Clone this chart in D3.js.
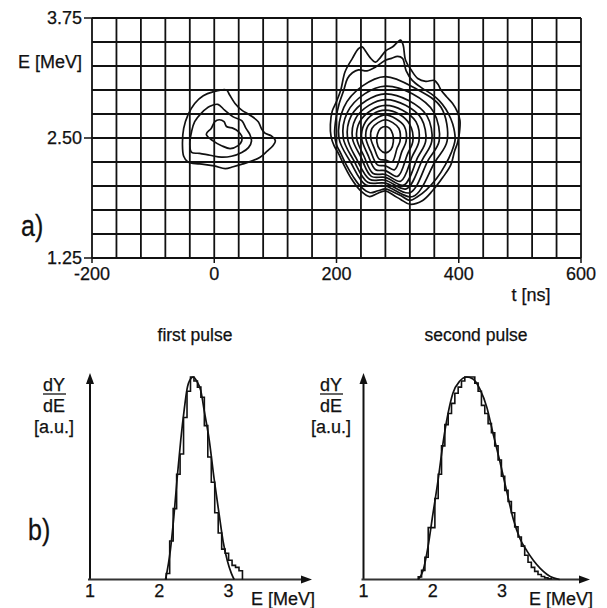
<!DOCTYPE html>
<html>
<head>
<meta charset="utf-8">
<script src="https://cdn.jsdelivr.net/npm/d3@7"></script>
<style>
  body { margin: 0; background: #fff; }
  text { font-family: "Liberation Sans", Arial, Helvetica, sans-serif; fill: #111; stroke: #111; stroke-width: 0.25px; }
</style>
</head>
<body>
<div id="chart"></div>
<script>
// ---------- data: panel a) ----------
const tTickLabels = [-200, 0, 200, 400, 600];
const eTickLabels = [1.25, 2.50, 3.75];
const tGridStep = 40;    // ns
const eGridStep = 0.25;  // MeV

// contour lines of the first pulse, [t (ns), E (MeV)]
const firstPulseContours = [
  [[-18,2.94],[-2,2.98],[20,3.00],[25,2.95],[34,2.86],[45,2.79],[58,2.74],[72,2.67],[77,2.60],[83,2.55],[94,2.52],[100,2.47],[96,2.42],[86,2.36],[75,2.30],[61,2.26],[47,2.23],[31,2.20],[18,2.18],[0,2.21],[-24,2.23],[-43,2.25],[-50,2.31],[-52,2.43],[-50,2.60],[-43,2.74],[-32,2.86]],
  [[-7,2.83],[6,2.85],[17,2.79],[31,2.72],[45,2.68],[52,2.60],[58,2.54],[61,2.47],[56,2.40],[45,2.35],[28,2.31],[12,2.30],[-7,2.32],[-24,2.34],[-37,2.35],[-40,2.43],[-37,2.57],[-32,2.67],[-21,2.76]],
  [[-13,2.54],[-5,2.60],[1,2.67],[8,2.69],[16,2.67],[20,2.62],[31,2.60],[39,2.57],[45,2.52],[45,2.47],[39,2.42],[26,2.39],[12,2.42],[-2,2.47]]
];

// contour lines of the second pulse, [t (ns), E (MeV)]
const secondPulseContours = [
  [[242,3.45],[248,3.40],[256,3.33],[264,3.29],[272,3.34],[281,3.41],[292,3.45],[300,3.50],[305,3.52],[309,3.47],[313,3.31],[322,3.21],[333,3.12],[346,3.09],[360,3.10],[366,3.06],[371,3.00],[380,2.93],[390,2.86],[398,2.77],[402,2.68],[401,2.55],[398,2.45],[393,2.36],[387,2.22],[374,2.09],[357,1.95],[341,1.85],[320,1.81],[305,1.86],[294,1.90],[280,1.95],[266,1.92],[254,1.89],[238,1.96],[223,2.09],[212,2.22],[204,2.33],[196,2.42],[191,2.52],[190,2.64],[193,2.78],[200,2.88],[207,3.00],[214,3.19],[226,3.33],[236,3.43]],
  [[280,3.31],[290,3.33],[300,3.35],[308,3.33],[314,3.20],[324,3.10],[340,3.02],[355,2.96],[368,2.89],[379,2.80],[387,2.70],[392,2.60],[394,2.48],[388,2.35],[378,2.22],[364,2.08],[347,1.96],[333,1.89],[320,1.85],[305,1.90],[292,1.94],[280,1.97],[268,1.95],[255,1.93],[240,1.99],[227,2.10],[216,2.22],[207,2.34],[200,2.43],[197,2.55],[199,2.70],[204,2.85],[212,3.00],[218,3.12],[226,3.18],[236,3.21],[250,3.20],[264,3.24],[273,3.28]],
  [[280,3.14],[328,3.02],[371,2.82],[381,2.47],[361,2.25],[325,1.89],[280,2.00],[248,2.01],[223,2.25],[204,2.50],[212,2.82],[242,3.04]],
  [[280,3.04],[324,2.96],[359,2.77],[368,2.47],[350,2.27],[320,1.93],[280,2.03],[251,2.04],[228,2.27],[211,2.50],[218,2.77],[246,2.96]],
  [[280,2.96],[318,2.89],[348,2.73],[356,2.47],[341,2.28],[314,1.97],[280,2.06],[254,2.07],[233,2.28],[218,2.50],[224,2.73],[249,2.89]],
  [[280,2.90],[313,2.84],[339,2.70],[346,2.47],[333,2.30],[310,2.01],[280,2.09],[257,2.10],[240,2.30],[226,2.50],[231,2.70],[253,2.84]],
  [[280,2.84],[308,2.79],[330,2.67],[335,2.47],[324,2.31],[305,2.05],[280,2.12],[260,2.13],[245,2.31],[233,2.50],[238,2.67],[257,2.79]],
  [[280,2.79],[302,2.75],[320,2.64],[325,2.47],[316,2.33],[300,2.10],[280,2.16],[264,2.17],[251,2.33],[241,2.50],[245,2.64],[260,2.75]],
  [[280,2.74],[297,2.70],[311,2.62],[314,2.47],[307,2.36],[295,2.17],[280,2.21],[267,2.22],[256,2.36],[248,2.50],[251,2.62],[264,2.70]],
  [[280,2.69],[292,2.66],[302,2.60],[304,2.47],[299,2.39],[291,2.25],[280,2.27],[270,2.28],[262,2.39],[256,2.50],[258,2.60],[268,2.66]],
  [[280,2.62],[287,2.60],[292,2.54],[293,2.46],[289,2.38],[280,2.345],[271,2.38],[266,2.46],[267,2.54],[272,2.60]]
];

// ---------- data: panel b) ----------
const bTickLabels = [1, 2, 3];

const firstHistStart = 2.10, firstHistWidth = 0.05;
const firstHist = [0.03,0.19,0.35,0.52,0.62,0.80,0.93,1.00,0.98,0.95,0.90,0.76,0.605,0.48,0.33,0.23,0.15,0.13,0.095,0.07,0.06,0.043];
const firstFit = [[2.09,0],[2.16,0.145],[2.21,0.31],[2.26,0.51],[2.31,0.69],[2.36,0.84],[2.40,0.94],[2.45,0.99],[2.49,1.0],[2.54,0.98],[2.60,0.93],[2.65,0.83],[2.72,0.69],[2.79,0.50],[2.86,0.33],[2.92,0.19],[2.98,0.095],[3.04,0.03],[3.08,0]];

const secondHistStart = 1.79, secondHistWidth = 0.048;
const secondHist = [0.013,0.045,0.11,0.256,0.256,0.40,0.52,0.66,0.765,0.82,0.87,0.92,0.95,0.98,1.0,1.0,1.0,0.97,0.93,0.86,0.82,0.77,0.725,0.66,0.59,0.51,0.44,0.385,0.33,0.26,0.21,0.165,0.12,0.085,0.06,0.04,0.025,0.015,0.008,0.004];
const secondFit = [[1.79,0],[1.86,0.045],[1.93,0.16],[2.00,0.32],[2.08,0.50],[2.15,0.68],[2.22,0.82],[2.29,0.92],[2.39,0.98],[2.49,1.0],[2.58,0.99],[2.68,0.94],[2.78,0.85],[2.87,0.72],[2.97,0.58],[3.07,0.43],[3.16,0.30],[3.26,0.20],[3.36,0.14],[3.45,0.095],[3.55,0.055],[3.65,0.025],[3.74,0.008],[3.83,0]];

// ---------- drawing ----------
const W = 607, H = 608;
const ink = "#111";

const svg = d3.select("#chart").append("svg")
    .attr("width", W)
    .attr("height", H)
    .attr("viewBox", [0, 0, W, H]);

svg.append("rect").attr("width", W).attr("height", H).attr("fill", "#fff");

// ****************** panel a) ******************
const x = d3.scaleLinear().domain([-200, 600]).range([92, 581]);
const y = d3.scaleLinear().domain([1.25, 3.75]).range([258, 18]);

const gA = svg.append("g").attr("class", "panel-a");

const tGrid = d3.range(x.domain()[0], x.domain()[1] + 1, tGridStep);
const eGrid = d3.range(0, 11).map(i => y.domain()[0] + i * eGridStep);

gA.selectAll("line.vgrid").data(tGrid).join("line")
    .attr("class", "vgrid")
    .attr("x1", d => x(d)).attr("x2", d => x(d))
    .attr("y1", y(y.domain()[0])).attr("y2", y(y.domain()[1]))
    .attr("stroke", ink).attr("stroke-width", 1.8);

gA.selectAll("line.hgrid").data(eGrid).join("line")
    .attr("class", "hgrid")
    .attr("x1", x(x.domain()[0])).attr("x2", x(x.domain()[1]))
    .attr("y1", d => y(d)).attr("y2", d => y(d))
    .attr("stroke", ink).attr("stroke-width", 1.8);

// ticks + labels
gA.selectAll("line.ytick").data(eTickLabels).join("line")
    .attr("x1", x(-200) - 8).attr("x2", x(-200))
    .attr("y1", d => y(d)).attr("y2", d => y(d))
    .attr("stroke", ink).attr("stroke-width", 1.5);
gA.selectAll("text.ylab").data(eTickLabels).join("text")
    .attr("class", "ylab")
    .attr("x", x(-200) - 10).attr("y", d => y(d))
    .attr("dy", "0.36em")
    .attr("text-anchor", "end")
    .attr("font-size", 18)
    .text(d => d3.format(".2f")(d));

gA.selectAll("line.xtick").data(tTickLabels).join("line")
    .attr("x1", d => x(d)).attr("x2", d => x(d))
    .attr("y1", y(1.25)).attr("y2", y(1.25) + 5)
    .attr("stroke", ink).attr("stroke-width", 1.5);
gA.selectAll("text.xlab").data(tTickLabels).join("text")
    .attr("class", "xlab")
    .attr("x", d => x(d)).attr("y", 280)
    .attr("text-anchor", "middle")
    .attr("font-size", 18)
    .text(d => d);

gA.append("text").attr("x", 82).attr("y", 68)
    .attr("text-anchor", "end").attr("font-size", 18).text("E [MeV]");
gA.append("text").attr("x", 531).attr("y", 301)
    .attr("text-anchor", "middle").attr("font-size", 18).text("t [ns]");
gA.append("text")
    .attr("transform", "translate(21,236) scale(1,1.2)")
    .attr("font-size", 25).text("a)");

// contours
const contourLine = d3.line()
    .x(d => x(d[0]))
    .y(d => y(d[1]))
    .curve(d3.curveCatmullRomClosed.alpha(0.5));

gA.selectAll("path.contour")
    .data(firstPulseContours.concat(secondPulseContours))
    .join("path")
    .attr("class", "contour")
    .attr("d", contourLine)
    .attr("fill", "none")
    .attr("stroke", ink)
    .attr("stroke-width", 1.7)
    .attr("stroke-linejoin", "round");

// ****************** panel b) ******************
const yb = d3.scaleLinear().domain([0, 1]).range([579.5, 377]);

function drawSpectrum(x0, title, titleX, labelX, histStart, histWidth, hist, fit, axisEnd) {
  const xb = d3.scaleLinear().domain([1, 3]).range([x0, x0 + 138.6]);
  const g = svg.append("g");

  // axes with arrow heads
  g.append("line")
      .attr("x1", x0).attr("x2", x0)
      .attr("y1", yb(0)).attr("y2", 382)
      .attr("stroke", ink).attr("stroke-width", 2);
  g.append("path")
      .attr("d", `M${x0},373 L${x0 - 4},384 L${x0 + 4},384 Z`)
      .attr("fill", ink);
  g.append("line")
      .attr("x1", x0 - 2).attr("x2", axisEnd - 8)
      .attr("y1", yb(0)).attr("y2", yb(0))
      .attr("stroke", "#333").attr("stroke-width", 2.2);
  g.append("path")
      .attr("d", `M${axisEnd},${yb(0)} L${axisEnd - 11},${yb(0) - 4} L${axisEnd - 11},${yb(0) + 4} Z`)
      .attr("fill", ink);

  g.selectAll("text.tick").data(bTickLabels).join("text")
      .attr("x", d => xb(d)).attr("y", 597)
      .attr("text-anchor", "middle")
      .attr("font-size", 18)
      .text(d => d);

  g.append("text").attr("x", axisEnd + 3).attr("y", 605)
      .attr("text-anchor", "end").attr("font-size", 18).text("E [MeV]");

  g.append("text").attr("x", titleX).attr("y", 341)
      .attr("text-anchor", "middle").attr("font-size", 17.5).text(title);

  // dY/dE [a.u.]
  g.append("text").attr("x", labelX).attr("y", 391)
      .attr("text-anchor", "middle").attr("font-size", 18).text("dY");
  g.append("line")
      .attr("x1", labelX - 11).attr("x2", labelX + 12)
      .attr("y1", 394).attr("y2", 394)
      .attr("stroke", ink).attr("stroke-width", 1.3);
  g.append("text").attr("x", labelX).attr("y", 412)
      .attr("text-anchor", "middle").attr("font-size", 18).text("dE");
  g.append("text").attr("x", labelX).attr("y", 433)
      .attr("text-anchor", "middle").attr("font-size", 18).text("[a.u.]");

  // histogram as a step outline
  const pts = [[histStart, 0]];
  hist.forEach((h, i) => pts.push([histStart + i * histWidth, h]));
  pts.push([histStart + hist.length * histWidth, 0]);

  g.append("path")
      .attr("d", d3.line().x(d => xb(d[0])).y(d => yb(d[1])).curve(d3.curveStepAfter)(pts))
      .attr("fill", "none")
      .attr("stroke", ink)
      .attr("stroke-width", 1.6);

  // fitted curve
  g.append("path")
      .attr("d", d3.line().x(d => xb(d[0])).y(d => yb(d[1])).curve(d3.curveMonotoneX)(fit))
      .attr("fill", "none")
      .attr("stroke", ink)
      .attr("stroke-width", 1.7);
}

drawSpectrum(90, "first pulse", 195, 54, firstHistStart, firstHistWidth, firstHist, firstFit, 312);
drawSpectrum(363.5, "second pulse", 476, 331, secondHistStart, secondHistWidth, secondHist, secondFit, 590);

svg.append("text")
    .attr("transform", "translate(28,540) scale(1,1.2)")
    .attr("font-size", 25).text("b)");
</script>
</body>
</html>
